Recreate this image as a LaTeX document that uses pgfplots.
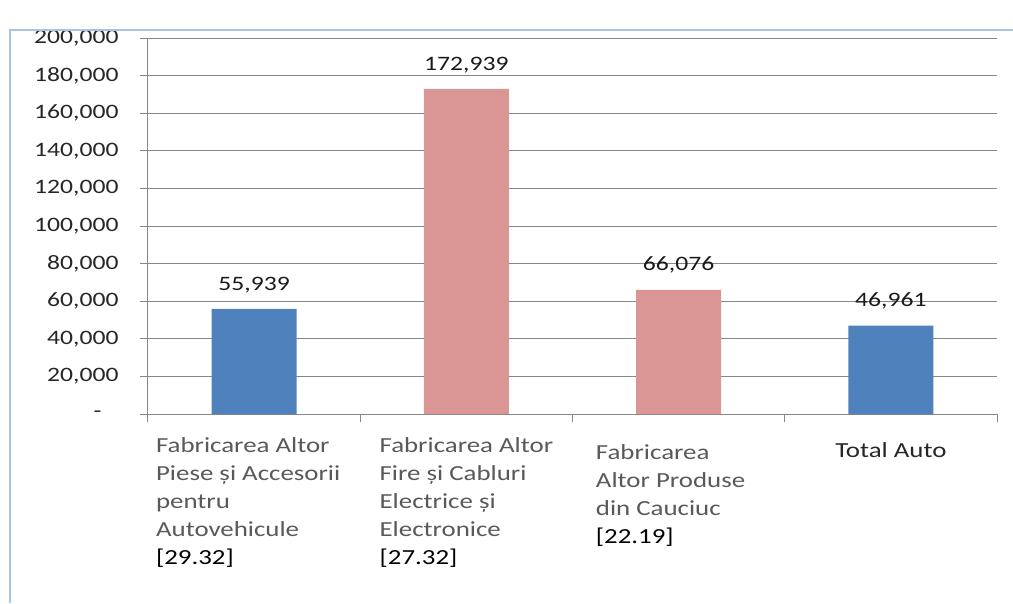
\documentclass[border=0pt]{standalone}
\usepackage{pgfplots}
\pgfplotsset{compat=1.18}
\usepackage{fontspec}
\setmainfont{Carlito}[FakeStretch=1.25]
\definecolor{barblue}{HTML}{4F81BD}
\definecolor{barpink}{HTML}{D99694}
\definecolor{gridgray}{HTML}{868686}
\definecolor{labgray}{HTML}{595959}
\definecolor{frameblue}{HTML}{A7C3E6}
\begin{document}
\begin{tikzpicture}
\begin{axis}[name=ax, scale only axis, width=849pt, height=376pt,
  xmin=-0.5, xmax=3.5, ymin=0, ymax=200000,
  scaled y ticks=false,
  axis x line*=bottom, axis y line*=left,
  axis line style={gridgray, line width=1pt},
  ytick={0,20000,40000,60000,80000,100000,120000,140000,160000,180000,200000},
  yticklabels={{-\rule{17pt}{0pt}},{20,000},{40,000},{60,000},{80,000},{100,000},{120,000},{140,000},{160,000},{180,000},{200,000}},
  ymajorgrids, major grid style={gridgray, line width=1pt},
  tick align=outside, major tick length=8pt, minor tick length=8pt,
  major y tick style={gridgray, line width=1pt},
  major x tick style={draw=none},
  minor xtick={-0.5,0.5,1.5,2.5,3.5},
  minor x tick style={gridgray, line width=1pt},
  xtick={-0.028,1,1.962,3},
  xticklabels={
    {Fabricarea Altor\\Piese și Accesorii\\pentru\\Autovehicule\\\textcolor{black}{[29.32]}},
    {Fabricarea Altor\\Fire și Cabluri\\Electrice și\\Electronice\\\textcolor{black}{[27.32]}},
    {\rule{0pt}{22pt}Fabricarea\\Altor Produse\\din Cauciuc\\\textcolor{black}{[22.19]}},
    {\rule{0pt}{20pt}\textcolor{black!85}{Total Auto}}},
  xticklabel style={align=left, anchor=north, yshift=-12pt, text=labgray, font=\fontsize{21.5}{28}\selectfont},
  yticklabel style={xshift=-18pt, font=\fontsize{20.5}{24}\selectfont, text=black!85},
  nodes near coords={\pgfmathprintnumber[fixed,precision=0,1000 sep={,},assume math mode=true]{\pgfplotspointmeta}},
  nodes near coords style={anchor=south, inner sep=0pt, yshift=16pt, font=\fontsize{20.5}{24}\selectfont, text=black!90},
]
\addplot[ybar, bar width=0.4, bar shift=0pt, fill=barblue, draw=none] coordinates {(0,55939) (3,46961)};
\addplot[ybar, bar width=0.4, bar shift=0pt, fill=barpink, draw=none] coordinates {(1,172939) (2,66076)};
\end{axis}
\draw[frameblue, line width=2pt] ([shift={(-138pt,-189pt)}]ax.south west) -- ([shift={(-138pt,8pt)}]ax.north west) -- ([shift={(16pt,8pt)}]ax.north east);
\pgfresetboundingbox
\path[use as bounding box] ([shift={(-148pt,-189pt)}]ax.south west) rectangle ([shift={(16pt,38pt)}]ax.north east);
\end{tikzpicture}
\end{document}
